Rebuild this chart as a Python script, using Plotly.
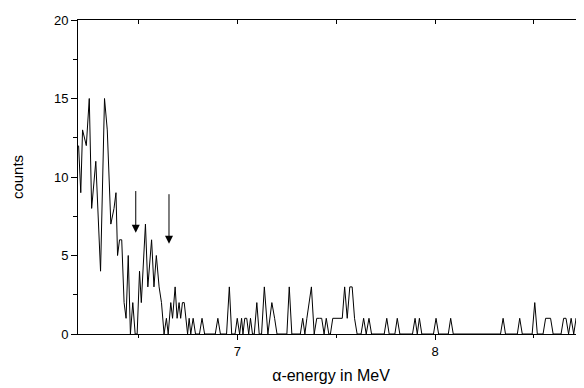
import plotly.graph_objects as go

# alpha energy (MeV) and counts
energy = [6.198, 6.209, 6.218, 6.237, 6.252, 6.264, 6.285, 6.309, 6.329, 6.343,
          6.361, 6.377, 6.387, 6.395, 6.405, 6.416, 6.428, 6.438, 6.449, 6.460,
          6.472, 6.484, 6.494, 6.506, 6.515, 6.536, 6.548, 6.567, 6.579, 6.591,
          6.605, 6.617, 6.630, 6.642, 6.651, 6.664, 6.673, 6.686, 6.696, 6.706,
          6.714, 6.723, 6.732, 6.740, 6.749, 6.757, 6.765, 6.777, 6.789, 6.809,
          6.822, 6.835, 6.889, 6.902, 6.915, 6.946, 6.960, 6.972, 6.989, 7.000,
          7.012, 7.022, 7.029, 7.038, 7.048, 7.058, 7.067, 7.077, 7.086, 7.099,
          7.111, 7.123, 7.137, 7.155, 7.175, 7.189, 7.201, 7.251, 7.263, 7.276,
          7.319, 7.331, 7.342, 7.352, 7.375, 7.389, 7.402, 7.415, 7.427, 7.439,
          7.450, 7.463, 7.471, 7.483, 7.495, 7.508, 7.521, 7.531, 7.543, 7.556,
          7.569, 7.581, 7.593, 7.606, 7.626, 7.639, 7.652, 7.666, 7.679, 7.743,
          7.756, 7.768, 7.797, 7.809, 7.822, 7.886, 7.899, 7.910, 7.921, 7.933,
          7.992, 8.005, 8.018, 8.067, 8.079, 8.092, 8.331, 8.344, 8.356, 8.416,
          8.428, 8.441, 8.491, 8.504, 8.517, 8.546, 8.559, 8.571, 8.584, 8.597,
          8.637, 8.650, 8.662, 8.675, 8.688, 8.701, 8.713, 8.726, 8.753]
counts = [12, 9, 13, 12, 15, 8, 11, 4, 15, 13,
          7, 8, 9, 5, 6, 6, 2, 1, 5, 0,
          2, 0, 0, 4, 2, 7, 3, 6, 3, 5,
          3, 2, 0, 1, 0, 2, 1, 3, 1, 2,
          1, 2, 2, 1, 0, 1, 0, 1, 0, 0,
          1, 0, 0, 1, 0, 0, 3, 0, 0, 1,
          0, 1, 0, 1, 1, 0, 1, 0, 0, 2,
          0, 0, 3, 0, 2, 1, 0, 0, 3, 0,
          0, 1, 0, 1, 3, 0, 1, 1, 1, 0,
          1, 0, 0, 1, 1, 1, 1, 1, 3, 1,
          3, 3, 1, 0, 0, 1, 0, 1, 0, 0,
          1, 0, 0, 1, 0, 0, 1, 0, 1, 0,
          0, 1, 0, 0, 1, 0, 0, 1, 0, 0,
          1, 0, 0, 2, 0, 0, 1, 1, 1, 0,
          0, 1, 1, 0, 1, 0, 1, 0, 0]

# arrows marking lines: energy, tail count, tip count
arrow_energy = [6.487, 6.655]
arrow_tail = [9.2, 9.0]
arrow_tip = [6.45, 5.75]

x_range = [6.195, 8.753]
y_range = [0, 20]

FONT = "Arial, Liberation Sans, sans-serif"

fig = go.Figure()
fig.add_trace(go.Scatter(x=energy, y=counts, mode="lines",
                         line=dict(color="black", width=1), showlegend=False,
                         hoverinfo="skip"))
# invisible trace so the top axis is drawn
fig.add_trace(go.Scatter(x=[x_range[0]], y=[0], xaxis="x2", mode="markers",
                         marker=dict(opacity=0), showlegend=False, hoverinfo="skip"))

for e, t0, t1 in zip(arrow_energy, arrow_tail, arrow_tip):
    fig.add_annotation(x=e, y=t1, ax=e, ay=t0, xref="x", yref="y",
                       axref="x", ayref="y", showarrow=True, text="",
                       arrowhead=2, arrowsize=1.6, arrowwidth=1, arrowcolor="black")

fig.update_layout(
    width=576, height=380,
    margin=dict(l=70, r=0, t=12, b=54, autoexpand=False),
    paper_bgcolor="white", plot_bgcolor="white",
    font=dict(family=FONT, size=13, color="black"),
    xaxis=dict(range=x_range, showgrid=False, zeroline=False, automargin=False,
               showline=True, linecolor="black", linewidth=1,
               ticks="outside", ticklen=5, tickwidth=1, tickcolor="black",
               tick0=7, dtick=1,
               minor=dict(dtick=0.5, ticks="outside", ticklen=3, tickcolor="black"),
               tickfont=dict(size=13),
               title=dict(text="α-energy in MeV", font=dict(size=16), standoff=12)),
    xaxis2=dict(range=x_range, overlaying="x", side="top", showgrid=False,
                zeroline=False, showline=True, linecolor="black", linewidth=1,
                automargin=False,
                ticks="inside", ticklen=4, tickcolor="black", tick0=7, dtick=1,
                minor=dict(dtick=0.5, ticks="inside", ticklen=4, tickcolor="black"),
                showticklabels=False),
    yaxis=dict(range=y_range, showgrid=False, zeroline=False, automargin=False,
               showline=True, linecolor="black", linewidth=1,
               ticks="outside", ticklen=6, tickwidth=1, tickcolor="black",
               tick0=0, dtick=5,
               minor=dict(dtick=2.5, ticks="outside", ticklen=4, tickcolor="black"),
               tickfont=dict(size=13),
               title=dict(text="counts", font=dict(size=15), standoff=26)),
)

fig.write_html("out.html")
